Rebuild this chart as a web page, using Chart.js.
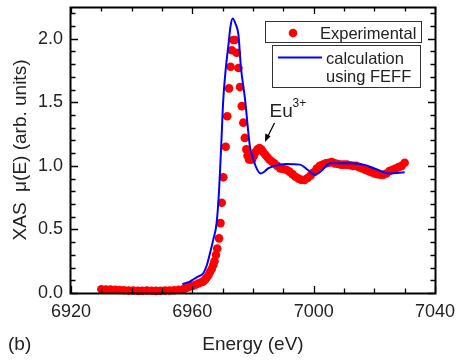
<!DOCTYPE html>
<html>
<head>
<meta charset="utf-8">
<script src="https://cdn.jsdelivr.net/npm/chart.js@4.4.1/dist/chart.umd.min.js"></script>
<style>
    body { margin: 0; background: #fff; }
    #wrap { width: 457px; height: 360px; }
</style>
</head>
<body>
<div id="wrap"><canvas id="xasChart"></canvas></div>
<script>
// Experimental Eu L3-edge points (energy in eV, mu in arb. units)
var expEnergy = [6930, 6931.5, 6933, 6934.5, 6936, 6937.5, 6939, 6940.5, 6942, 6943.5, 6945, 6946.5, 6948,
    6949.5, 6951, 6952.5, 6954, 6955.5, 6957, 6958, 6959, 6960, 6961, 6962, 6963, 6963.6, 6964.2, 6964.7,
    6965.3, 6965.8, 6966.4, 6966.9, 6967.3, 6967.8, 6968.2, 6968.8, 6969.3, 6969.7, 6970.2, 6971.0, 6971.5,
    6972.1, 6972.6, 6973.0, 6973.5, 6974.0, 6974.6, 6975.2, 6975.7, 6976.3, 6976.8, 6977.3, 6977.8, 6978.2,
    6978.7, 6979.2, 6979.7, 6980.3, 6980.9, 6981.5, 6982.1, 6982.7, 6983.3, 6984, 6984.7, 6985.4, 6986.2,
    6987, 6988, 6989, 6990, 6991, 6992, 6993, 6994, 6995, 6996, 6997, 6998, 6999, 7000, 7001, 7002, 7003,
    7004, 7005, 7006, 7007, 7008, 7009, 7010, 7011, 7012, 7013, 7014, 7015, 7016, 7017, 7018, 7019, 7020,
    7021, 7022, 7023, 7024, 7025, 7026, 7027, 7028, 7029, 7030];
var expMu = [0.03, 0.028, 0.027, 0.025, 0.024, 0.022, 0.02, 0.02, 0.018, 0.018, 0.02, 0.018, 0.017,
    0.018, 0.02, 0.02, 0.022, 0.025, 0.03, 0.04, 0.05, 0.055, 0.065, 0.075, 0.085, 0.09, 0.105, 0.12,
    0.14, 0.165, 0.19, 0.22, 0.25, 0.30, 0.35, 0.43, 0.55, 0.71, 0.91, 1.15, 1.39,
    1.61, 1.78, 1.91, 1.99, 1.99, 1.89, 1.77, 1.62, 1.47, 1.34, 1.22, 1.13, 1.08,
    1.05, 1.05, 1.05, 1.08, 1.11, 1.13, 1.14, 1.13, 1.11, 1.09, 1.07, 1.05, 1.035,
    1.02, 1.0, 0.98, 0.975, 0.97, 0.955, 0.935, 0.915, 0.90, 0.89, 0.89, 0.905, 0.925, 0.95, 0.98, 1.0, 1.01,
    1.02, 1.025, 1.03, 1.02, 1.015, 1.01, 1.01, 1.01, 1.005, 1.0, 1.0, 0.99, 0.98, 0.97, 0.96, 0.95, 0.94,
    0.935, 0.93, 0.93, 0.94, 0.96, 0.97, 0.98, 0.99, 1.0, 1.025];

// FEFF calculation
var calcEnergy = [6956.7, 6958, 6959.2, 6960.5, 6962, 6963.6, 6964.8, 6965.8, 6966.9, 6968.0, 6968.8, 6969.5,
    6970.2, 6971.0, 6971.9, 6972.6, 6973.3, 6974.2, 6975.2, 6976.0, 6977.4, 6978.3, 6979.0, 6980.0, 6981.2,
    6982.5, 6983.5, 6985, 6987, 6991, 6995.5, 6998, 7000.4, 7002.5, 7005.4, 7010, 7016.4, 7020, 7025, 7030];
var calcMu = [0.07, 0.08, 0.09, 0.11, 0.13, 0.155, 0.22, 0.31, 0.42, 0.55, 0.8, 1.15,
    1.52, 1.76, 1.95, 2.1, 2.16, 2.12, 2.03, 1.78, 1.52, 1.3, 1.15, 1.06, 0.98,
    0.94, 0.95, 0.98, 1.0, 1.015, 1.01, 0.97, 0.93, 0.96, 1.02, 1.02, 1.01, 0.98, 0.94, 0.95];

var xTicks = [6920, 6960, 7000, 7040];
var yTicks = [0, 0.5, 1.0, 1.5, 2.0];

var FONT = "'Liberation Sans', Arial, Helvetica, sans-serif";
var INK = '#222';

function toPoints(xs, ys) {
    return xs.map(function (x, i) { return { x: x, y: ys[i] }; });
}

// frame, inward ticks, legend boxes and the Eu3+ note
var decorations = {
    id: 'decorations',
    afterDraw: function (chart) {
        var ctx = chart.ctx;
        var ca = chart.chartArea;
        var xs = chart.scales.x, ys = chart.scales.y;
        ctx.save();
        ctx.strokeStyle = '#000';
        ctx.lineWidth = 2;
        ctx.strokeRect(ca.left - 0.5, ca.top + 0.5, ca.right - ca.left + 1, ca.bottom - ca.top);

        ctx.lineWidth = 1.3;
        ctx.beginPath();
        for (var e = 6920; e <= 7040; e += 10) {
            var px = Math.round(xs.getPixelForValue(e)) + 0.5;
            var len = (e % 40 === 0) ? 7 : 4.5;
            ctx.moveTo(px, ca.bottom); ctx.lineTo(px, ca.bottom - len);
            ctx.moveTo(px, ca.top); ctx.lineTo(px, ca.top + len);
        }
        for (var k = 0; k <= 22; k++) {
            var py = Math.round(ys.getPixelForValue(k / 10)) + 0.5;
            var l2 = (k % 5 === 0) ? 7 : 4.5;
            ctx.moveTo(ca.left, py); ctx.lineTo(ca.left + l2, py);
            ctx.moveTo(ca.right, py); ctx.lineTo(ca.right - l2, py);
        }
        ctx.stroke();

        // legend
        ctx.strokeStyle = '#333';
        ctx.lineWidth = 1;
        ctx.strokeRect(265.5, 21.5, 156, 21);
        ctx.strokeRect(272.5, 45.5, 148, 42);
        ctx.fillStyle = '#ff0000';
        ctx.beginPath();
        ctx.arc(293, 33, 4.3, 0, Math.PI * 2);
        ctx.fill();
        ctx.strokeStyle = '#0000ff';
        ctx.lineWidth = 2;
        ctx.beginPath();
        ctx.moveTo(278, 57.5); ctx.lineTo(322, 57.5);
        ctx.stroke();
        ctx.fillStyle = INK;
        ctx.font = '16.5px ' + FONT;
        ctx.textBaseline = 'alphabetic';
        ctx.textAlign = 'left';
        ctx.fillText('Experimental', 320, 38.5);
        ctx.fillText('calculation', 326, 63.5);
        ctx.fillText('using FEFF', 326, 82);

        // Eu3+ label and arrow
        ctx.font = '19px ' + FONT;
        ctx.fillText('Eu', 269.5, 116.5);
        ctx.font = '12px ' + FONT;
        ctx.fillText('3+', 292.5, 107);
        ctx.strokeStyle = '#000';
        ctx.fillStyle = '#000';
        ctx.lineWidth = 1.3;
        ctx.beginPath();
        ctx.moveTo(274.5, 123); ctx.lineTo(268, 136);
        ctx.stroke();
        ctx.beginPath();
        ctx.moveTo(265, 142); ctx.lineTo(265.3, 133.5); ctx.lineTo(270.6, 136.2);
        ctx.closePath();
        ctx.fill();

        // panel letter
        ctx.fillStyle = INK;
        ctx.font = '19px ' + FONT;
        ctx.textBaseline = 'middle';
        ctx.fillText('(b)', 8, 345);
        ctx.restore();
    }
};

var ctx = document.getElementById('xasChart');
var xasChart = new Chart(ctx, {
    type: 'scatter',
    data: {
        datasets: [{
            label: 'calculation using FEFF',
            type: 'line',
            data: toPoints(calcEnergy, calcMu),
            borderColor: '#0000ff',
            borderWidth: 2,
            pointRadius: 0,
            fill: false,
            cubicInterpolationMode: 'monotone',
            order: 0
        }, {
            label: 'Experimental',
            data: toPoints(expEnergy, expMu),
            backgroundColor: '#ff0000',
            borderWidth: 0,
            pointRadius: 4.3,
            clip: false,
            order: 1
        }]
    },
    options: {
        responsive: true,
        maintainAspectRatio: false,
        animation: false,
        layout: { padding: { left: 0, top: 7, right: 22, bottom: 0 } },
        plugins: {
            legend: { display: false },
            tooltip: { enabled: false }
        },
        scales: {
            x: {
                type: 'linear',
                min: 6920,
                max: 7040,
                afterBuildTicks: function (s) {
                    s.ticks = xTicks.map(function (v) { return { value: v }; });
                },
                afterFit: function (s) {
                    s.height = 67;
                    s.paddingLeft = 0;
                    s.paddingRight = 0;
                },
                grid: { display: false, drawTicks: false },
                border: { display: false },
                ticks: {
                    color: INK,
                    font: { family: FONT, size: 18 },
                    padding: 8,
                    maxRotation: 0,
                    autoSkip: false,
                    callback: function (v) { return String(v); }
                },
                title: {
                    display: true,
                    text: 'Energy (eV)',
                    color: INK,
                    font: { family: FONT, size: 19 },
                    padding: { top: 0, bottom: 4 }
                }
            },
            y: {
                min: 0,
                max: 2.25,
                afterBuildTicks: function (s) {
                    s.ticks = yTicks.map(function (v) { return { value: v }; });
                },
                afterFit: function (s) {
                    s.width = 71;
                    s.paddingTop = 0;
                    s.paddingBottom = 0;
                },
                grid: { display: false, drawTicks: false },
                border: { display: false },
                ticks: {
                    color: INK,
                    font: { family: FONT, size: 18 },
                    padding: 8,
                    callback: function (v) { return v.toFixed(1); }
                },
                title: {
                    display: true,
                    text: 'XAS  \u03bc(E) (arb. units)',
                    color: INK,
                    font: { family: FONT, size: 19 },
                    padding: { top: 9, bottom: 0 }
                }
            }
        }
    },
    plugins: [decorations]
});
</script>
</body>
</html>
